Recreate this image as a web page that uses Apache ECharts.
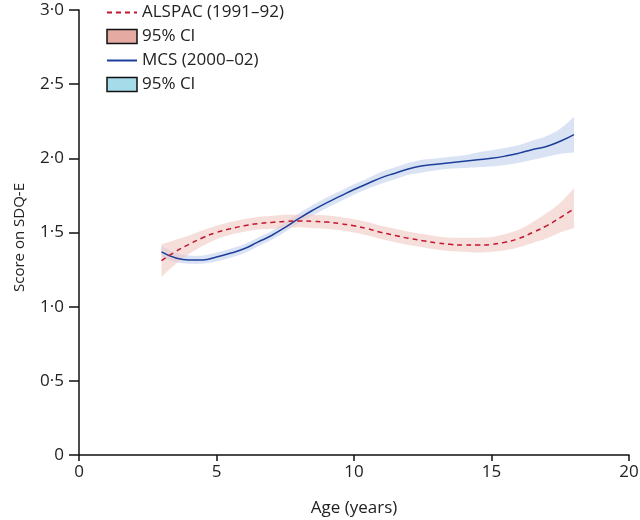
<!DOCTYPE html>
<html><head><meta charset="utf-8">
<script src="https://cdn.jsdelivr.net/npm/echarts@6/dist/echarts.min.js"></script>
<style>html,body{margin:0;padding:0;background:#fff}#c{width:640px;height:520px}</style>
</head><body><div id="c"></div>
<script>
const ages = [3,3.5,4,4.5,5,5.5,6,6.5,7,7.5,8,8.5,9,9.5,10,10.5,11,11.5,12,12.5,13,13.5,14,14.5,15,15.5,16,16.5,17,17.5,18];
const alspacMean = [1.31,1.37,1.42,1.465,1.50,1.525,1.545,1.56,1.568,1.575,1.578,1.575,1.57,1.56,1.545,1.525,1.50,1.48,1.46,1.445,1.43,1.42,1.415,1.415,1.42,1.435,1.46,1.50,1.545,1.60,1.66];
const alspacLower = [1.20,1.285,1.355,1.41,1.455,1.485,1.505,1.52,1.525,1.53,1.535,1.53,1.525,1.515,1.50,1.48,1.455,1.435,1.415,1.40,1.385,1.375,1.37,1.365,1.37,1.38,1.40,1.43,1.46,1.50,1.53];
const alspacUpper = [1.42,1.45,1.48,1.515,1.545,1.57,1.59,1.605,1.612,1.62,1.62,1.62,1.615,1.605,1.59,1.57,1.545,1.525,1.505,1.49,1.475,1.465,1.465,1.465,1.47,1.49,1.52,1.57,1.63,1.70,1.80];
const mcsMean = [1.37,1.33,1.315,1.315,1.335,1.36,1.39,1.435,1.48,1.535,1.595,1.65,1.70,1.745,1.79,1.83,1.87,1.90,1.93,1.95,1.96,1.97,1.98,1.99,2.00,2.015,2.035,2.06,2.08,2.115,2.16];
const mcsLower = [1.335,1.30,1.29,1.29,1.305,1.33,1.36,1.405,1.45,1.505,1.565,1.615,1.665,1.71,1.755,1.795,1.83,1.86,1.89,1.905,1.92,1.93,1.935,1.94,1.945,1.955,1.97,1.99,2.01,2.03,2.04];
const mcsUpper = [1.41,1.365,1.345,1.345,1.365,1.39,1.42,1.465,1.51,1.57,1.63,1.685,1.735,1.78,1.825,1.865,1.91,1.94,1.97,1.99,2.00,2.01,2.02,2.04,2.055,2.07,2.09,2.12,2.15,2.20,2.28];

const pair = (ys) => ages.map((a,i)=>[a, ys[i]]);
const FONT = '"Open Sans", "Noto Sans", sans-serif';

// Catmull-Rom smoothing of pixel points (drawing only)
function smoothPts(p){
  const out = [];
  const n = p.length, steps = 8;
  for (let i=0;i<n-1;i++){
    const p0 = p[Math.max(i-1,0)], p1 = p[i], p2 = p[i+1], p3 = p[Math.min(i+2,n-1)];
    for (let s=0;s<steps;s++){
      const t = s/steps, t2=t*t, t3=t2*t;
      const f = k => 0.5*((2*p1[k]) + (-p0[k]+p2[k])*t + (2*p0[k]-5*p1[k]+4*p2[k]-p3[k])*t2 + (-p0[k]+3*p1[k]-3*p2[k]+p3[k])*t3);
      out.push([f(0), f(1)]);
    }
  }
  out.push(p[n-1]);
  return out;
}

function bandSeries(name, lo, hi, fill, legendColor, z){
  return {
    name, type:'custom', z, silent:true,
    itemStyle:{color:legendColor},
    data:[0],
    renderItem:(params, api) => {
      const up = smoothPts(ages.map((a,i)=>api.coord([a, hi[i]])));
      const dn = smoothPts(ages.map((a,i)=>api.coord([a, lo[i]]))).reverse();
      return {type:'polygon', shape:{points:up.concat(dn)}, style:{fill:fill, stroke:null}};
    }
  };
}

const chart = echarts.init(document.getElementById('c'), null, {renderer:'canvas'});
chart.setOption({
  animation:false,
  textStyle:{fontFamily:FONT},
  grid:{left:79, right:11, top:10, bottom:65, containLabel:false, outerBoundsMode:'none'},
  legend:{
    left:101, top:-1, orient:'vertical', itemGap:7, itemWidth:30, itemHeight:14,
    textStyle:{fontFamily:FONT, fontSize:17, color:'#222'},
    data:[
      {name:'ALSPAC (1991–92)', itemStyle:{opacity:0}},
      {name:'95% CI', icon:'rect', itemStyle:{color:'#e5aaa2', borderColor:'#111', borderWidth:1.5, opacity:1}},
      {name:'MCS (2000–02)', itemStyle:{opacity:0}},
      {name:'95% CI ', icon:'rect', itemStyle:{color:'#a6dbea', borderColor:'#111', borderWidth:1.5, opacity:1}}
    ]
  },
  xAxis:{
    type:'value', min:0, max:20, interval:5,
    name:'Age (years)', nameLocation:'middle', nameGap:45,
    nameTextStyle:{fontFamily:FONT, fontSize:17, color:'#222'},
    axisLine:{lineStyle:{color:'#111', width:1.5}},
    axisTick:{show:true, length:6, lineStyle:{color:'#111', width:1.5}},
    axisLabel:{fontFamily:FONT, fontSize:17, color:'#222', margin:9},
    splitLine:{show:false}
  },
  yAxis:{
    type:'value', min:0, max:3, interval:0.5,
    name:'Score on SDQ-E', nameLocation:'middle', nameGap:52,
    nameTextStyle:{fontFamily:FONT, fontSize:15, color:'#222', padding:[0,0,0,-10]},
    axisLine:{show:true, lineStyle:{color:'#111', width:1.5}},
    axisTick:{show:true, length:10, lineStyle:{color:'#111', width:1.5}},
    axisLabel:{fontFamily:FONT, fontSize:17, color:'#222', margin:15,
      formatter: v => v===0 ? '0' : v.toFixed(1).replace('.', '\u00B7')},
    splitLine:{show:false}
  },
  series:[
    bandSeries('95% CI ', mcsLower, mcsUpper, 'rgba(205,218,240,0.75)', '#a6dbea', 1),
    bandSeries('95% CI', alspacLower, alspacUpper, 'rgba(240,200,195,0.6)', '#e5aaa2', 2),
    {name:'MCS (2000–02)', type:'line', data:pair(mcsMean), smooth:true, symbol:'none',
     lineStyle:{color:'#1d3f9c', width:1.5}, itemStyle:{color:'#1d3f9c'}, z:5},
    {name:'ALSPAC (1991–92)', type:'line', data:pair(alspacMean), smooth:true, symbol:'none',
     lineStyle:{color:'#c3162e', width:1.5, type:[5,4]}, itemStyle:{color:'#c3162e'}, z:5}
  ]
});
</script></body></html>
